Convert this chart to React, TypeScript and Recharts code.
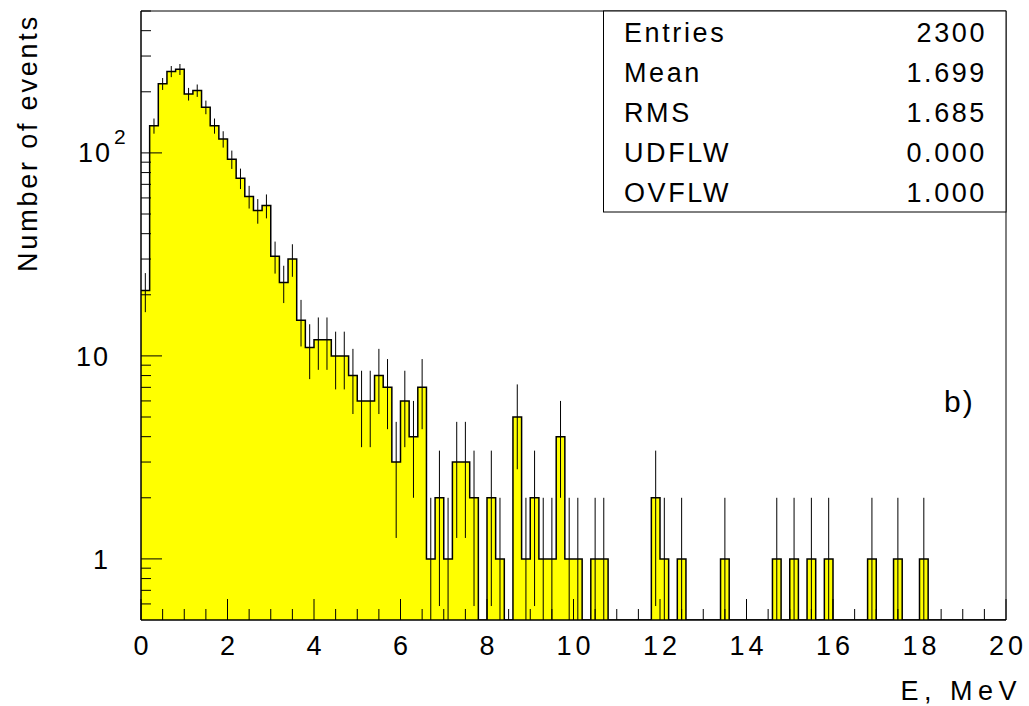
import React from 'react';
import { ComposedChart, Area, Scatter, ErrorBar, XAxis, YAxis, ReferenceArea } from 'recharts';

// Histogram: 100 bins of 0.2 MeV from 0 to 20 MeV (counts per bin)
const binLow = 0;
const binWidth = 0.2;
const counts = [
  21, 136, 219, 252, 258, 195, 203, 168, 136, 117,
  93, 75, 61, 52, 55, 31, 23, 30, 15, 11,
  12, 12, 10, 10, 8, 6, 6, 8, 7, 3,
  6, 4, 7, 1, 2, 1, 3, 3, 2, 0,
  2, 1, 0, 5, 1, 2, 1, 1, 4, 1,
  1, 0, 1, 1, 0, 0, 0, 0, 0, 2,
  1, 0, 1, 0, 0, 0, 0, 1, 0, 0,
  0, 0, 0, 1, 0, 1, 0, 1, 0, 1,
  0, 0, 0, 0, 1, 0, 0, 1, 0, 0,
  1, 0, 0, 0, 0, 0, 0, 0, 0, 0,
];

const xTicks = [
  0, 0.5, 1, 1.5, 2, 2.5, 3, 3.5, 4, 4.5, 5, 5.5, 6, 6.5, 7, 7.5, 8, 8.5, 9, 9.5,
  10, 10.5, 11, 11.5, 12, 12.5, 13, 13.5, 14, 14.5, 15, 15.5, 16, 16.5, 17, 17.5, 18, 18.5, 19, 19.5, 20,
];
const xLabels = ['0', '2', '4', '6', '8', '10', '12', '14', '16', '18', '20'];
const yTicks = [0.6, 0.7, 0.8, 0.9, 1, 2, 3, 4, 5, 6, 7, 8, 9, 10, 20, 30, 40, 50, 60, 70, 80, 90, 100, 200, 300, 400, 500];
const yMajor = [1, 10, 100];

const statLabels = ['Entries', 'Mean', 'RMS', 'UDFLW', 'OVFLW'];
const statValues = ['2300', '1.699', '1.685', '0.000', '1.000'];

const Y_MIN = 0.5;
const Y_MAX = 500;
const X_MIN = 0;
const X_MAX = 20;

// step data (left edges + final right edge); empty bins sit on the axis floor
const stepData = counts.map((c, i) => ({ x: binLow + i * binWidth, y: c > 0 ? c : Y_MIN }));
stepData.push({ x: binLow + counts.length * binWidth, y: stepData[stepData.length - 1].y });

// Poisson error bars at bin centres, clipped to the axis floor
const errData = counts
  .map((c, i) => {
    const s = Math.sqrt(c);
    const lo = Math.max(c - s, Y_MIN);
    return { x: binLow + (i + 0.5) * binWidth, y: c, err: [c - lo, s] };
  })
  .filter((d) => d.y > 0);

const FONT = '"Liberation Sans", Arial, sans-serif';
const FS = 27;

const XTick = (props: any) => {
  const { x, y, payload } = props;
  const v = payload.value as number;
  const label = xLabels.find((l) => Number(l) === v);
  const major = label !== undefined;
  return (
    <g>
      <line x1={x} x2={x} y1={y} y2={y - (major ? 21 : 11)} stroke="#000" strokeWidth={1} />
      {major && (
        <text x={x} y={y + 35} dx={2} textAnchor="middle" fontFamily={FONT} fontSize={FS} letterSpacing={4} fill="#000">
          {label}
        </text>
      )}
    </g>
  );
};

const YTick = (props: any) => {
  const { x, y, payload } = props;
  const v = payload.value as number;
  const major = yMajor.includes(v);
  let label: React.ReactNode = null;
  if (major) {
    if (v === 100) {
      label = (
        <g>
          <text x={x - 29} y={y + 9} textAnchor="end" fontFamily={FONT} fontSize={FS} letterSpacing={2} fill="#000">10</text>
          <text x={x - 27} y={y - 9} textAnchor="start" fontFamily={FONT} fontSize={21} fill="#000">2</text>
        </g>
      );
    } else {
      label = (
        <text x={x - 31} y={y + 10} textAnchor="end" fontFamily={FONT} fontSize={FS} letterSpacing={2} fill="#000">
          {String(v)}
        </text>
      );
    }
  }
  return (
    <g>
      <line x1={x} x2={x + (major ? 21 : 10)} y1={y} y2={y} stroke="#000" strokeWidth={1} />
      {label}
    </g>
  );
};

export default function App() {
  const W = 1029;
  const H = 706;
  return (
    <div style={{ position: 'absolute', left: 0, top: 0, width: W, height: H, background: '#fff' }}>
      <ComposedChart width={W} height={H} data={stepData} margin={{ top: 11, right: 23, bottom: 56, left: 81 }}>
        <Area
          type="stepAfter"
          dataKey="y"
          stroke="#000"
          strokeWidth={1.5}
          fill="#ffff00"
          fillOpacity={1}
          isAnimationActive={false}
          dot={false}
          activeDot={false}
        />
        <Scatter data={errData} dataKey="y" isAnimationActive={false} shape={() => <g />}>
          <ErrorBar dataKey="err" direction="y" width={0} stroke="#000" strokeWidth={1} isAnimationActive={false} />
        </Scatter>
        <ReferenceArea x1={X_MIN} x2={X_MAX} y1={Y_MIN} y2={Y_MAX} fill="none" stroke="#000" strokeWidth={1} fillOpacity={0} />
        <XAxis
          dataKey="x"
          type="number"
          domain={[X_MIN, X_MAX]}
          ticks={xTicks}
          interval={0}
          height={30}
          tickSize={0}
          tickMargin={0}
          tick={(p: any) => <XTick {...p} />}
          axisLine={{ stroke: '#000' }}
          allowDataOverflow
        />
        <YAxis
          type="number"
          scale="log"
          domain={[Y_MIN, Y_MAX]}
          ticks={yTicks}
          interval={0}
          width={60}
          tickSize={0}
          tickMargin={0}
          tick={(p: any) => <YTick {...p} />}
          axisLine={{ stroke: '#000' }}
          allowDataOverflow
        />
      </ComposedChart>
      <svg width={W} height={H} style={{ position: 'absolute', left: 0, top: 0, pointerEvents: 'none' }}>
        <rect x={603.5} y={11} width={402.5} height={201} fill="#fff" stroke="#000" strokeWidth={1} />
        {statLabels.map((l, i) => (
          <text key={l} x={624} y={42 + i * 40} fontFamily={FONT} fontSize={FS} letterSpacing={2.6} fill="#000">
            {l}
          </text>
        ))}
        {statValues.map((v, i) => (
          <text key={i} x={987} y={42 + i * 40} textAnchor="end" fontFamily={FONT} fontSize={FS} letterSpacing={2.6} fill="#000">
            {v}
          </text>
        ))}
        <text x={944} y={412} fontFamily={FONT} fontSize={30} letterSpacing={2} fill="#000">b)</text>
        <text x={1022} y={700} textAnchor="end" fontFamily={FONT} fontSize={FS} letterSpacing={5.5} fill="#000">E, MeV</text>
        <text
          x={0}
          y={0}
          transform="translate(37 143) rotate(-90)"
          textAnchor="middle"
          fontFamily={FONT}
          fontSize={FS}
          letterSpacing={2.8}
          fill="#000"
        >
          Number of events
        </text>
      </svg>
    </div>
  );
}
